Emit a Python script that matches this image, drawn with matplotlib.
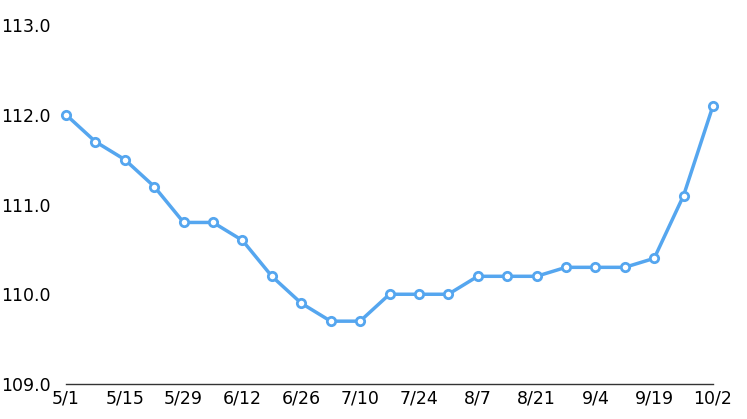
import matplotlib
matplotlib.use("Agg")
import matplotlib.pyplot as plt

plt.rcParams['font.family'] = ['DejaVu Sans']

# weekly values, 5/1 .. 10/2
dates = ["5/1", "5/8", "5/15", "5/22", "5/29", "6/5", "6/12", "6/19", "6/26", "7/3",
         "7/10", "7/17", "7/24", "7/31", "8/7", "8/14", "8/21", "8/28", "9/4", "9/11",
         "9/19", "9/25", "10/2"]
values = [112.0, 111.7, 111.5, 111.2, 110.8, 110.8, 110.6, 110.2, 109.9, 109.7,
          109.7, 110.0, 110.0, 110.0, 110.2, 110.2, 110.2, 110.3, 110.3, 110.3,
          110.4, 111.1, 112.1]
yticks = [109.0, 110.0, 111.0, 112.0, 113.0]

fig = plt.figure(figsize=(7.47, 4.19), dpi=100)
ax = fig.add_axes([66/747, 1 - 384/419, (713 - 66)/747, (384 - 25)/419])

x = list(range(len(values)))
ax.plot(x, values, color="#55A6EF", linewidth=2.5, marker="o", markersize=6,
        markerfacecolor="white", markeredgecolor="#55A6EF", markeredgewidth=2,
        clip_on=False, zorder=3)

ax.set_xlim(0, len(values) - 1)
ax.set_ylim(109.0, 113.0)
ax.set_yticks(yticks)
ax.set_yticklabels([f"{v:.1f}" for v in yticks], fontsize=12.5)
ax.set_xticks(x[::2])
ax.set_xticklabels(dates[::2], fontsize=12.5)
ax.tick_params(length=0, pad=4)
ax.tick_params(axis="y", pad=11)

for s in ["top", "right", "left"]:
    ax.spines[s].set_visible(False)
ax.spines["bottom"].set_color("#333333")
ax.spines["bottom"].set_linewidth(1)

fig.savefig("out.png", dpi=100)
